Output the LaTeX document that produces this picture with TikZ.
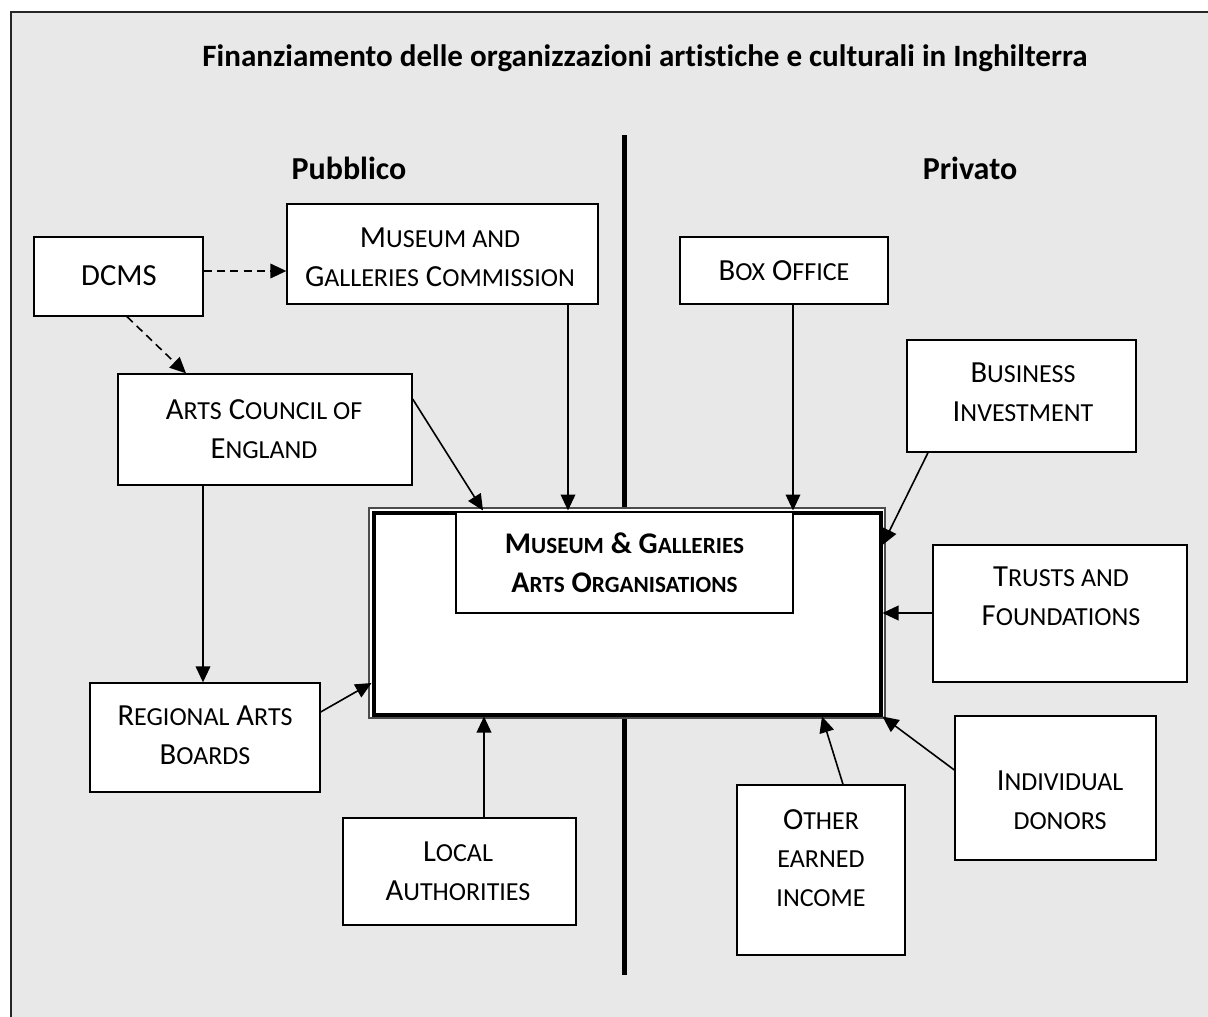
\documentclass[tikz,border=0pt]{standalone}
\usepackage{fontspec}
\setmainfont{Carlito}[Ligatures=NoCommon]
\usetikzlibrary{arrows.meta,fit,calc}
\definecolor{bg}{HTML}{E8E8E8}
\newcommand\smc[1]{{\fontsize{19.5pt}{20pt}\selectfont #1}}
\newcommand\smcb[1]{{\fontsize{17.4pt}{20pt}\selectfont #1}}
\begin{document}
\begin{tikzpicture}[x=0.75pt,y=-0.75pt,
  box/.style={draw=black,line width=1pt,fill=white,inner sep=0pt},
  txt/.style={font=\fontsize{23pt}{29pt}\selectfont,align=center,inner sep=0pt},
  hdr/.style={font=\fontsize{24pt}{29pt}\selectfont\bfseries,inner sep=0pt},
  arr/.style={line width=1.2pt,-{Triangle[length=12pt,width=11pt]}},
  darr/.style={arr,dash pattern=on 6pt off 4pt}]
\useasboundingbox (0,0) rectangle (1208,1017);
\fill[white] (0,0) rectangle (1208,1017);
\fill[bg] (11,12) rectangle (1208,1017);
\draw[line width=1.5pt,gray!30!black] (11,1030) -- (11,12) -- (1220,12);

\node[hdr,font=\fontsize{23.3pt}{29pt}\selectfont\bfseries] (title) at (645,58) {Finanziamento delle organizzazioni artistiche e culturali in Inghilterra};
\node[hdr] (pub) at (349,168) {Pubblico};
\node[hdr] (priv) at (970,168) {Privato};

\coordinate (vtop) at (624.5,135);
\coordinate (vbot) at (624.5,975);
\draw[line width=3.75pt] (vtop) -- (vbot);

% central box
\draw[line width=0.9pt,draw=gray!60!black,fill=white] (369,508) rectangle (885,718);
\node[fit={(373.5,512.5)(880.5,714.5)},draw,line width=3pt,fill=white,inner sep=0pt] (org) {};
\node[box,fit={(456,512.5)(793,613)}] (mga) {};
\node[txt,font=\fontsize{22.5pt}{29pt}\selectfont\bfseries] at (mga.center) {M\smcb{USEUM} \& G\smcb{ALLERIES}\\A\smcb{RTS} O\smcb{RGANISATIONS}};

% boxes
\node[box,fit={(34,237)(203,316)}] (dcms) {};
\node[txt] at (119,276) {DCMS};
\node[box,fit={(287,204)(598,304)}] (mgc) {};
\node[txt] at (440,257) {M\smc{USEUM AND}\\G\smc{ALLERIES} C\smc{OMMISSION}};
\node[box,fit={(680,237)(888,304)}] (boxoff) {};
\node[txt] at (784,271) {B\smc{OX} O\smc{FFICE}};
\node[box,fit={(907,340)(1136,452)}] (bi) {};
\node[txt] at (1023,392) {B\smc{USINESS}\\I\smc{NVESTMENT}};
\node[box,fit={(118,374)(412,485)}] (ace) {};
\node[txt] at (264,429) {A\smc{RTS} C\smc{OUNCIL OF}\\E\smc{NGLAND}};
\node[box,fit={(933,545)(1187,682)}] (trusts) {};
\node[txt] at (1061,596) {T\smc{RUSTS AND}\\F\smc{OUNDATIONS}};
\node[box,fit={(90,683)(320,792)}] (rab) {};
\node[txt] at (205,735) {R\smc{EGIONAL} A\smc{RTS}\\B\smc{OARDS}};
\node[box,fit={(343,818)(576,925)}] (local) {};
\node[txt] at (458,871) {L\smc{OCAL}\\A\smc{UTHORITIES}};
\node[box,fit={(737,785)(905,955)}] (oei) {};
\node[txt] at (821,858) {O\smc{THER}\\\smc{EARNED}\\\smc{INCOME}};
\node[box,fit={(955,716)(1156,860)}] (ind) {};
\node[txt] at (1060,800) {I\smc{NDIVIDUAL}\\\smc{DONORS}};

% connectors
\draw[darr] (dcms.east |- 0,271) -- (mgc.west |- 0,271);
\draw[darr] (dcms.south -| 127,0) -- (ace.north -| 186,0);
\draw[arr] (ace.east |- 0,399) -- (483,0 |- org.north);
\draw[arr] (568,0 |- mgc.south) -- (568,0 |- org.north);
\draw[arr] (793,0 |- boxoff.south) -- (793,0 |- org.north);
\draw[arr] (928,0 |- bi.south) -- (org.east |- 0,545);
\draw[arr] (trusts.west |- 0,613) -- (org.east |- 0,613);
\draw[arr] (ind.west |- 0,770) -- (org.south east);
\draw[arr] (843,0 |- oei.north) -- (822,0 |- org.south);
\draw[arr] (484,0 |- local.north) -- (484,0 |- org.south);
\draw[arr] (203,0 |- ace.south) -- (203,0 |- rab.north);
\draw[arr] (rab.east |- 0,712) -- (org.west |- 0,683);
\end{tikzpicture}
\end{document}
